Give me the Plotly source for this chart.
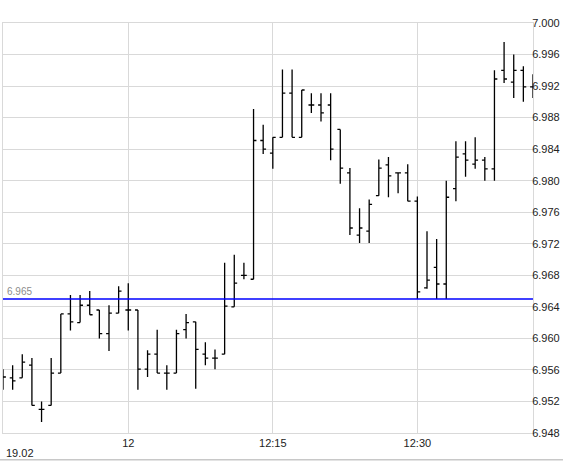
"""
Intraday 1-minute OHLC bars with a reference level line
"""

import plotly.graph_objects as go
import pandas as pd

# 1-minute bars, 19.02 11:47 .. 12:42
DAY = "2024-02-19"
TIMES = [
    "11:47", "11:48", "11:49", "11:50", "11:51", "11:52", "11:53", "11:54",
    "11:55", "11:56", "11:57", "11:58", "11:59", "12:00", "12:01", "12:02",
    "12:03", "12:04", "12:05", "12:06", "12:07", "12:08", "12:09", "12:10",
    "12:11", "12:12", "12:13", "12:14", "12:15", "12:16", "12:17", "12:18",
    "12:19", "12:20", "12:21", "12:22", "12:23", "12:24", "12:25", "12:26",
    "12:27", "12:28", "12:29", "12:30", "12:31", "12:32", "12:33", "12:34",
    "12:35", "12:36", "12:37", "12:38", "12:39", "12:40", "12:41", "12:42",
]
OPEN = [
    6.9561, 6.9550, 6.9550, 6.9566, 6.9510, 6.9515, 6.9556, 6.9631,
    6.9620, 6.9642, 6.9636, 6.9606, 6.9632, 6.9636, 6.9636, 6.9561,
    6.9580, 6.9556, 6.9556, 6.9611, 6.9621, 6.9580, 6.9575, 6.9580,
    6.9640, 6.9680, 6.9675, 6.9851, 6.9835, 6.9855, 6.9911, 6.9855,
    6.9896, 6.9896, 6.9896, 6.9865, 6.9810, 6.9731, 6.9736, 6.9781,
    6.9820, 6.9810, 6.9810, 6.9774, 6.9664, 6.9690, 6.9669, 6.9790,
    6.9834, 6.9821, 6.9826, 6.9815, 6.9940, 6.9925, 6.9940, 6.9919,
]
HIGH = [
    6.9561, 6.9566, 6.9580, 6.9575, 6.9520, 6.9575, 6.9631, 6.9655,
    6.9655, 6.9660, 6.9636, 6.9642, 6.9666, 6.9670, 6.9636, 6.9585,
    6.9611, 6.9566, 6.9611, 6.9631, 6.9621, 6.9595, 6.9586, 6.9696,
    6.9706, 6.9696, 6.9891, 6.9871, 6.9855, 6.9941, 6.9941, 6.9915,
    6.9911, 6.9911, 6.9911, 6.9865, 6.9816, 6.9765, 6.9776, 6.9827,
    6.9830, 6.9810, 6.9821, 6.9780, 6.9736, 6.9726, 6.9800, 6.9850,
    6.9850, 6.9855, 6.9830, 6.9940, 6.9976, 6.9960, 6.9945, 6.9935,
]
LOW = [
    6.9535, 6.9535, 6.9550, 6.9515, 6.9494, 6.9515, 6.9556, 6.9610,
    6.9620, 6.9630, 6.9600, 6.9584, 6.9632, 6.9610, 6.9535, 6.9551,
    6.9556, 6.9535, 6.9556, 6.9600, 6.9536, 6.9566, 6.9561, 6.9580,
    6.9640, 6.9675, 6.9675, 6.9834, 6.9815, 6.9855, 6.9855, 6.9855,
    6.9886, 6.9875, 6.9826, 6.9796, 6.9731, 6.9721, 6.9721, 6.9781,
    6.9779, 6.9784, 6.9774, 6.9650, 6.9663, 6.9650, 6.9650, 6.9774,
    6.9805, 6.9815, 6.9800, 6.9800, 6.9924, 6.9905, 6.9900, 6.9905,
]
CLOSE = [
    6.9551, 6.9546, 6.9570, 6.9515, 6.9510, 6.9556, 6.9631, 6.9621,
    6.9642, 6.9630, 6.9606, 6.9632, 6.9660, 6.9636, 6.9561, 6.9580,
    6.9556, 6.9556, 6.9606, 6.9620, 6.9586, 6.9575, 6.9575, 6.9641,
    6.9670, 6.9680, 6.9851, 6.9840, 6.9855, 6.9911, 6.9855, 6.9915,
    6.9896, 6.9886, 6.9840, 6.9816, 6.9740, 6.9740, 6.9770, 6.9816,
    6.9806, 6.9810, 6.9774, 6.9659, 6.9674, 6.9669, 6.9779, 6.9830,
    6.9826, 6.9826, 6.9815, 6.9929, 6.9929, 6.9940, 6.9919, 6.9919,
]

LEVEL = 6.965
Y_TICKS = [6.948, 6.952, 6.956, 6.960, 6.964, 6.968, 6.972,
           6.976, 6.980, 6.984, 6.988, 6.992, 6.996, 7.000]
X_TICKS = ["12:00", "12:15", "12:30"]
X_TICK_TEXT = ["12", "12:15", "12:30"]
DATE_LABEL = "19.02"

GRID = "#d9d9d9"
FONT = "Liberation Sans, Arial, sans-serif"

df = pd.DataFrame({
    "time": pd.to_datetime([f"{DAY} {t}" for t in TIMES]),
    "open": OPEN, "high": HIGH, "low": LOW, "close": CLOSE,
})

fig = go.Figure()

fig.add_trace(go.Ohlc(
    x=df["time"],
    open=df["open"], high=df["high"], low=df["low"], close=df["close"],
    increasing=dict(line=dict(color="black", width=1.3)),
    decreasing=dict(line=dict(color="black", width=1.3)),
    tickwidth=0.3,
    hoverinfo="skip",
))

# reference level
fig.add_shape(
    type="line", xref="paper", x0=0, x1=1, yref="y", y0=LEVEL, y1=LEVEL,
    line=dict(color="#0000ff", width=1.5),
)
fig.add_annotation(
    xref="paper", x=0.003, yref="y", y=LEVEL,
    text=f"{LEVEL:.3f}", showarrow=False,
    xanchor="left", yanchor="bottom", yshift=0,
    font=dict(size=10, color="#8c8c8c", family=FONT),
)

# date label and bottom rule
fig.add_annotation(
    xref="paper", x=0.001, yref="paper", y=-0.048,
    text=DATE_LABEL, showarrow=False,
    xanchor="left", yanchor="middle",
    font=dict(size=11, color="#222222", family=FONT),
)
fig.add_shape(
    type="line", xref="paper", x0=-0.01, x1=1.06, yref="paper", y0=-0.065, y1=-0.065,
    line=dict(color="#c8c8c8", width=1.5),
)

x_range = [df["time"].iloc[0], df["time"].iloc[-1]]

fig.update_layout(
    width=563, height=462,
    margin=dict(l=3, r=30, t=23, b=29, autoexpand=False),
    paper_bgcolor="white",
    plot_bgcolor="white",
    showlegend=False,
    font=dict(family=FONT, size=11, color="#222222"),
    xaxis=dict(
        range=x_range,
        rangeslider=dict(visible=False),
        tickvals=pd.to_datetime([f"{DAY} {t}" for t in X_TICKS]),
        ticktext=X_TICK_TEXT,
        showgrid=True, gridcolor=GRID, gridwidth=1,
        showline=True, linecolor=GRID, linewidth=1, mirror=True,
        zeroline=False, ticks="",
        automargin=False,
    ),
    yaxis=dict(
        range=[Y_TICKS[0], Y_TICKS[-1]],
        side="right",
        tickvals=Y_TICKS,
        tickformat=".3f",
        showgrid=True, gridcolor=GRID, gridwidth=1,
        showline=True, linecolor=GRID, linewidth=1, mirror=True,
        zeroline=False, ticks="",
        ticklabelstandoff=-4,
        automargin=False,
    ),
)

# page has a default body margin; drop it so the figure sits at 0,0
fig.write_html(
    "out.html",
    config={"displayModeBar": False},
    post_script="document.body.style.margin='0';",
)
